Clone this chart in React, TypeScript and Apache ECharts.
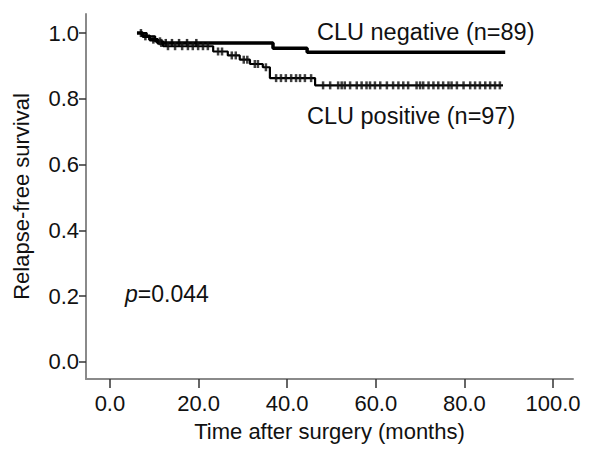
import React, { useEffect, useRef } from "react";
import * as echarts from "echarts";

// Kaplan-Meier step data (time in months, survival proportion)
const negTimes = [6.1, 7.4, 9.0, 10.8, 36.8, 44.5, 89.2];
const negSurv = [1.0, 0.99, 0.98, 0.97, 0.954, 0.942, 0.942];
const posTimes = [6.8, 8.3, 10.2, 12.0, 23.3, 26.6, 29.3, 31.6, 34.5, 36.1, 46.3, 88.7];
const posSurv = [1.0, 0.99, 0.975, 0.96, 0.944, 0.932, 0.919, 0.906, 0.896, 0.863, 0.841, 0.841];

// censored observations (months)
const negCensor = [7.0, 8.0, 9.8, 11.6, 12.6, 14.0, 15.6, 17.4, 19.5];
const posCensor = [
  11.3, 13.1, 14.7, 16.3, 17.6, 18.7, 19.9, 21.0, 22.1,
  24.4, 25.3, 27.5, 28.4, 30.2, 31.0, 32.7, 33.4, 35.2,
  37.5, 38.6, 39.7, 40.9, 42.0, 42.9, 44.0, 45.4,
  48.1, 49.7, 51.5, 52.3, 53.0, 54.2, 55.7, 56.8, 57.9, 58.7, 59.8, 61.0,
  62.5, 63.9, 65.1, 66.2, 67.3, 69.2, 70.0, 70.7, 71.9, 73.0, 74.1, 75.2,
  76.4, 77.1, 78.3, 79.8, 81.3, 82.4, 83.5, 84.7, 85.8, 86.9, 88.0,
];

const xTicks = [0, 20, 40, 60, 80, 100];
const yTicks = [0, 0.2, 0.4, 0.6, 0.8, 1.0];

const labelNeg = "CLU negative (n=89)";
const labelPos = "CLU positive (n=97)";
const pText = "=0.044";

function survAt(times: number[], surv: number[], t: number): number {
  let s = surv[0];
  for (let i = 0; i < times.length; i++) {
    if (times[i] <= t) s = surv[i];
  }
  return s;
}

const FONT = "'Liberation Sans', Arial, sans-serif";
const TXT = "#111";

export default function App() {
  const ref = useRef<HTMLDivElement>(null);
  useEffect(() => {
    document.body.style.margin = "0";
    if (!ref.current) return;
    const chart = echarts.init(ref.current, undefined, { renderer: "svg" });
    const negData = negTimes.map((t, i) => [t, negSurv[i]]);
    const posData = posTimes.map((t, i) => [t, posSurv[i]]);
    const negC = negCensor.map((t) => [t, survAt(negTimes, negSurv, t)]);
    const posC = posCensor.map((t) => [t, survAt(posTimes, posSurv, t)]);
    chart.setOption({
      animation: false,
      backgroundColor: "#ffffff",
      textStyle: { fontFamily: FONT },
      grid: {
        left: 86,
        right: 41,
        top: 14,
        bottom: 71,
        containLabel: false,
        outerBoundsMode: "none",
      },
      xAxis: {
        type: "value",
        min: -5.4,
        max: 104.5,
        splitLine: { show: false },
        axisLine: { show: true, onZero: false, lineStyle: { color: "#8a8a8a", width: 2 } },
        axisTick: {
          show: true,
          customValues: xTicks,
          length: 9,
          lineStyle: { color: "#333", width: 1.5 },
        },
        axisLabel: {
          customValues: xTicks,
          formatter: (v: number) => v.toFixed(1),
          fontSize: 22,
          color: TXT,
          fontFamily: FONT,
          margin: 13,
        },
        name: "Time after surgery (months)",
        nameLocation: "middle",
        nameGap: 41,
        nameTextStyle: { fontSize: 22, color: TXT, fontFamily: FONT },
      },
      yAxis: {
        type: "value",
        min: -0.052,
        max: 1.058,
        splitLine: { show: false },
        axisLine: { show: true, onZero: false, lineStyle: { color: "#8a8a8a", width: 2 } },
        axisTick: {
          show: true,
          customValues: yTicks,
          length: 7,
          lineStyle: { color: "#333", width: 1.5 },
        },
        axisLabel: {
          customValues: yTicks,
          formatter: (v: number) => v.toFixed(1),
          fontSize: 22,
          color: TXT,
          fontFamily: FONT,
          margin: 7,
        },
        name: "Relapse-free survival",
        nameLocation: "middle",
        nameGap: 54,
        nameTextStyle: { fontSize: 22, color: TXT, fontFamily: FONT },
      },
      series: [
        {
          type: "line",
          step: "end",
          data: negData,
          showSymbol: false,
          lineStyle: { color: "#000", width: 3.5 },
          z: 3,
        },
        {
          type: "line",
          step: "end",
          data: posData,
          showSymbol: false,
          lineStyle: { color: "#000", width: 2.2 },
          z: 2,
        },
        {
          type: "scatter",
          data: negC,
          symbol: "rect",
          symbolSize: [2.5, 8],
          itemStyle: { color: "#000" },
          z: 4,
        },
        {
          type: "scatter",
          data: posC,
          symbol: "rect",
          symbolSize: [2.5, 8],
          itemStyle: { color: "#111" },
          z: 4,
        },
      ],
      graphic: [
        {
          type: "text",
          left: 317,
          top: 20,
          style: { text: labelNeg, font: `23.5px ${FONT}`, fill: TXT },
        },
        {
          type: "text",
          left: 307,
          top: 104,
          style: { text: labelPos, font: `23.5px ${FONT}`, fill: TXT },
        },
        {
          type: "text",
          left: 125,
          top: 282,
          style: {
            text: "{i|p}{n|" + pText + "}",
            rich: {
              i: { fontStyle: "italic", fontSize: 23, fontFamily: FONT, fill: TXT },
              n: { fontSize: 23, fontFamily: FONT, fill: TXT },
            },
          },
        },
      ],
    });
    return () => chart.dispose();
  }, []);
  return <div ref={ref} style={{ width: 614, height: 450 }} />;
}
